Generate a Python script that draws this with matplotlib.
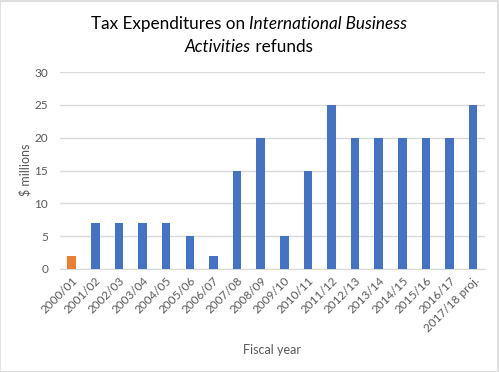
import numpy as np
import matplotlib as mpl
import matplotlib.pyplot as plt

mpl.rc("font", family=["Lato", "DejaVu Sans"])

years = ["2000/01", "2001/02", "2002/03", "2003/04", "2004/05", "2005/06",
         "2006/07", "2007/08", "2008/09", "2009/10", "2010/11", "2011/12",
         "2012/13", "2013/14", "2014/15", "2015/16", "2016/17", "2017/18 proj."]
refunds = [2, 7, 7, 7, 7, 5, 2, 15, 20, 5, 15, 25, 20, 20, 20, 20, 20, 25]
yticks = [0, 5, 10, 15, 20, 25, 30]

blue = "#4472C4"
orange = "#ED7D31"
grey = "#595959"
grid = "#D9D9D9"

fig = plt.figure(figsize=(4.99, 3.72), dpi=100)
ax = fig.add_axes([0.120, 0.277, 0.852, 0.529])

x = np.arange(len(years))
colors = [orange] + [blue]*(len(years)-1)
ax.bar(x, refunds, width=0.36, color=colors, zorder=3)

ax.set_xlim(-0.5, len(years)-0.5)
ax.set_ylim(0, 30)
ax.set_yticks(yticks)
ax.set_xticks(x)
ax.set_xticklabels(years, rotation=45, ha="right", rotation_mode="anchor")
ax.tick_params(axis="both", length=0, colors=grey, labelsize=8.5)
ax.tick_params(axis="y", pad=8.5)
ax.tick_params(axis="x", pad=4)
ax.yaxis.grid(True, color=grid, lw=1, zorder=0)
for s in ["top", "right", "left"]:
    ax.spines[s].set_visible(False)
ax.spines["bottom"].set_color(grid)

fig.text(25/499, 1-170/372, "$ millions", rotation=90, ha="center", va="center",
         color=grey, fontsize=9)
fig.text(272/499, 1-350/372, "Fiscal year", ha="center", va="center",
         color=grey, fontsize=9)

# title with italic parts, each line centred
lines = [[("Tax Expenditures on ", "normal"), ("International Business", "italic")],
         [("Activities", "italic"), (" refunds", "normal")]]
baselines = [1-29/372, 1-52/372]
fig.canvas.draw()
r = fig.canvas.get_renderer()
for parts, yb in zip(lines, baselines):
    txts = [fig.text(0, yb, s, fontsize=12.3, style=st, va="baseline", color="black")
            for s, st in parts]
    widths = [t.get_window_extent(r).width / fig.bbox.width for t in txts]
    x0 = 249/499 - sum(widths)/2
    for t, w in zip(txts, widths):
        t.set_x(x0)
        x0 += w

fig.patches.append(mpl.patches.Rectangle((0.001, 0.001), 0.997, 0.996,
                   transform=fig.transFigure, fill=False, ec=grid, lw=1.2))

plt.savefig("out.png", dpi=100)
